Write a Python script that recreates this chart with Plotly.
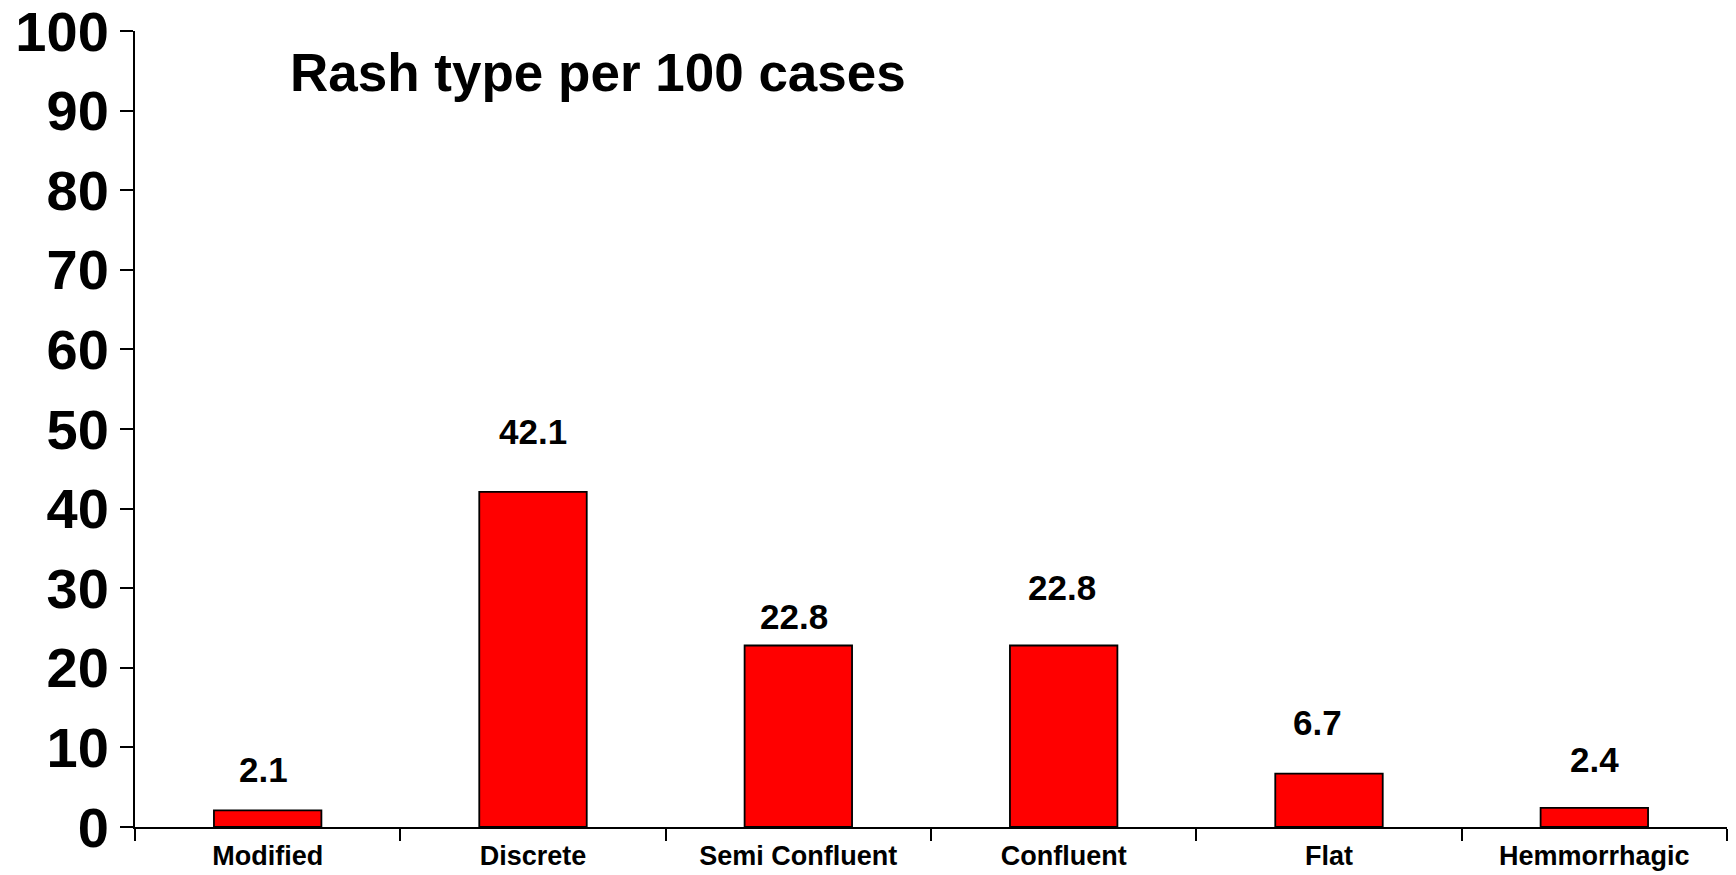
import plotly.graph_objects as go

# Rash type per 100 cases
categories = ["Modified", "Discrete", "Semi Confluent", "Confluent", "Flat", "Hemmorrhagic"]
rate_per_100 = [2.1, 42.1, 22.8, 22.8, 6.7, 2.4]
y_ticks = [0, 10, 20, 30, 40, 50, 60, 70, 80, 90, 100]

# hand-placed value labels: pixel lift above each bar top, small horizontal nudges
label_lift_px = [41, 60, 29, 58, 51, 48]
label_nudge_px = [-4, 0, -4, -2, -12, 0]

FONT = "Arial, 'Liberation Sans', sans-serif"

fig = go.Figure()
fig.add_trace(go.Bar(
    x=categories,
    y=rate_per_100,
    marker=dict(color="#ff0000", line=dict(color="#000000", width=1.8)),
    width=0.405,
    hoverinfo="x+y",
))

for cat, val, lift, nudge in zip(categories, rate_per_100, label_lift_px, label_nudge_px):
    fig.add_annotation(
        x=cat, y=val, xref="x", yref="y",
        text=f"{val:.1f}", showarrow=False,
        yanchor="middle", xanchor="center",
        yshift=lift, xshift=nudge,
        font=dict(family=FONT, size=35, color="#000000", weight="bold"),
    )

fig.add_annotation(
    xref="paper", yref="paper",
    x=(288 - 135) / 1592, y=1 - (73 - 31) / 796,
    xanchor="left", yanchor="middle",
    text="Rash type per 100 cases", showarrow=False,
    font=dict(family=FONT, size=53, color="#000000", weight="bold"),
)

fig.update_layout(
    width=1736, height=875,
    margin=dict(l=135, r=9, t=31, b=48),
    paper_bgcolor="#ffffff", plot_bgcolor="#ffffff",
    showlegend=False,
    font=dict(family=FONT, color="#000000"),
)

fig.update_xaxes(
    type="category", automargin=False,
    showline=True, linecolor="#000000", linewidth=2,
    ticks="outside", tickson="boundaries", ticklen=12, tickwidth=2, tickcolor="#000000",
    ticklabelstandoff=4,
    tickfont=dict(family=FONT, size=27, color="#000000", weight="bold"),
    showgrid=False, zeroline=False,
)
fig.update_yaxes(
    range=[0, 100], tickvals=y_ticks, automargin=False,
    showline=True, linecolor="#000000", linewidth=2,
    ticks="outside", ticklen=13, tickwidth=2, tickcolor="#000000",
    ticklabeloverflow="allow",
    tickfont=dict(family=FONT, size=56, color="#000000", weight="bold"),
    showgrid=False, zeroline=False,
)

fig.write_html("out.html")
